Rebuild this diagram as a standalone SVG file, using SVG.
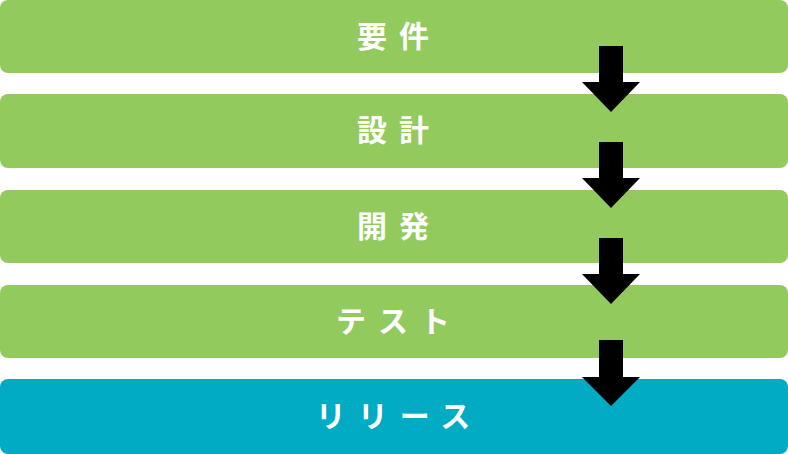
<svg xmlns="http://www.w3.org/2000/svg" width="788" height="454" viewBox="0 0 788 454">
<style>
.g{fill:#93ca5e}
.b{fill:#00abc3}
.t{fill:#fff;font-family:"Noto Sans CJK JP","Noto Sans",sans-serif;font-weight:bold;font-size:30px;letter-spacing:12px;text-anchor:middle;dominant-baseline:central}
.a{fill:#000}
</style>
<rect width="788" height="454" fill="#fff"/>
<g id="n1"><rect class="g" x="0" y="0" width="788" height="73" rx="8"/><text class="t" x="399" y="34">要件</text></g>
<g id="n2"><rect class="g" x="0" y="94" width="788" height="74" rx="8"/><text class="t" x="399" y="128">設計</text></g>
<g id="n3"><rect class="g" x="0" y="190" width="788" height="73" rx="8"/><text class="t" x="399" y="224">開発</text></g>
<g id="n4"><rect class="g" x="0" y="285" width="788" height="73" rx="8"/><text class="t" x="399" y="319">テスト</text></g>
<g id="n5"><rect class="b" x="0" y="379" width="788" height="75" rx="8"/><text class="t" x="399" y="414">リリース</text></g>
<g id="connectors">
<path class="a" d="M599 46H623V82H640L611 112L582 82H599Z"/>
<path class="a" d="M599 142H623V178H640L611 208L582 178H599Z"/>
<path class="a" d="M599 238H623V274H640L611 304L582 274H599Z"/>
<path class="a" d="M599 340H623V377H640L611 406L582 377H599Z"/>
</g>
</svg>
